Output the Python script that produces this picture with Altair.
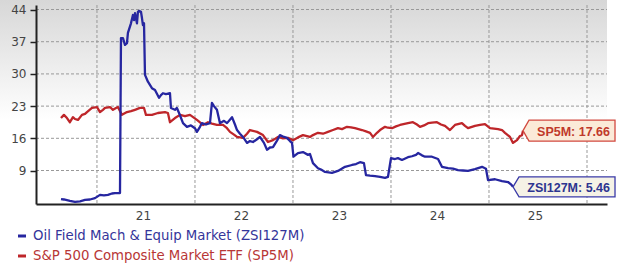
import altair as alt
import pandas as pd

# ---------------- data ----------------
series_names = ["Oil Field Mach & Equip Market (ZSI127M)",
                "S&P 500 Composite Market ETF (SP5M)"]
series_codes = ["ZSI127M", "SP5M"]

blue_t = [2020.633, 2020.663, 2020.724, 2020.776, 2020.827, 2020.878, 2020.929, 2020.980,
          2021.031, 2021.071, 2021.112, 2021.153, 2021.184, 2021.235, 2021.245, 2021.265,
          2021.286, 2021.306, 2021.316, 2021.347, 2021.367, 2021.378, 2021.388, 2021.408,
          2021.418, 2021.429, 2021.449, 2021.459, 2021.469, 2021.480, 2021.490, 2021.520,
          2021.561, 2021.592, 2021.633, 2021.653, 2021.673, 2021.704, 2021.745, 2021.755,
          2021.796, 2021.816, 2021.847, 2021.878, 2021.918, 2021.959, 2022.000, 2022.020,
          2022.051, 2022.071, 2022.112, 2022.153, 2022.173, 2022.194, 2022.224, 2022.255,
          2022.296, 2022.327, 2022.378, 2022.408, 2022.429, 2022.459, 2022.490, 2022.531,
          2022.561, 2022.592, 2022.633, 2022.663, 2022.704, 2022.735, 2022.765, 2022.796,
          2022.837, 2022.867, 2022.908, 2022.939, 2022.969, 2022.990, 2023.005, 2023.051,
          2023.102, 2023.153, 2023.173, 2023.204, 2023.255, 2023.286, 2023.327, 2023.398,
          2023.459, 2023.531, 2023.602, 2023.643, 2023.684, 2023.724, 2023.745, 2023.786,
          2023.837, 2023.888, 2023.939, 2023.969, 2024.000, 2024.041, 2024.071, 2024.112,
          2024.173, 2024.214, 2024.255, 2024.276, 2024.316, 2024.347, 2024.418, 2024.480,
          2024.520, 2024.582, 2024.633, 2024.684, 2024.735, 2024.786, 2024.857, 2024.929,
          2024.969, 2024.990, 2025.061, 2025.133, 2025.194, 2025.224, 2025.245]
blue_v = [2.8, 2.7, 2.4, 2.2, 2.3, 2.6, 2.7, 3.0,
          3.7, 3.6, 3.7, 4.0, 4.1, 4.1, 37.8, 37.8,
          36.3, 36.7, 38.9, 41.0, 42.8, 41.7, 43.2, 41.0,
          43.5, 43.7, 43.5, 42.2, 40.6, 41.0, 29.8, 28.3,
          26.9, 26.5, 24.8, 25.4, 25.8, 25.6, 25.8, 22.6,
          22.2, 22.6, 21.0, 19.3, 18.5, 18.8, 18.2, 17.4,
          18.5, 19.3, 19.0, 19.3, 23.7, 23.0, 22.2, 19.3,
          19.8, 19.3, 20.6, 19.0, 17.8, 17.0, 16.3, 15.0,
          15.4, 15.2, 15.8, 16.3, 15.0, 13.5, 14.0, 14.1,
          15.5, 16.7, 16.3, 16.1, 15.4, 15.0, 12.0, 12.8,
          13.0, 12.4, 12.6, 10.6, 9.5, 9.2, 8.7, 8.5,
          8.9, 9.8, 10.2, 10.4, 10.8, 10.6, 8.0, 7.9,
          7.8, 7.6, 7.4, 7.6, 11.7, 11.5, 11.7, 11.3,
          11.9, 12.1, 12.4, 12.8, 12.3, 12.0, 12.0, 11.5,
          9.8, 9.5, 9.4, 9.1, 9.0, 8.9, 9.3, 9.8,
          9.4, 6.9, 7.1, 6.7, 6.5, 6.0, 5.46]

red_t = [2020.633, 2020.663, 2020.694, 2020.724, 2020.755, 2020.776, 2020.806, 2020.847,
         2020.878, 2020.898, 2020.949, 2021.000, 2021.031, 2021.061, 2021.082, 2021.133,
         2021.163, 2021.194, 2021.214, 2021.255, 2021.306, 2021.347, 2021.388, 2021.439,
         2021.480, 2021.500, 2021.561, 2021.622, 2021.694, 2021.724, 2021.745, 2021.796,
         2021.847, 2021.898, 2021.949, 2022.020, 2022.082, 2022.133, 2022.173, 2022.224,
         2022.286, 2022.327, 2022.357, 2022.398, 2022.429, 2022.490, 2022.531, 2022.561,
         2022.633, 2022.694, 2022.745, 2022.796, 2022.847, 2022.898, 2022.949, 2023.000,
         2023.051, 2023.102, 2023.173, 2023.204, 2023.255, 2023.306, 2023.357, 2023.408,
         2023.459, 2023.500, 2023.551, 2023.592, 2023.633, 2023.704, 2023.745, 2023.786,
         2023.816, 2023.857, 2023.888, 2023.939, 2023.969, 2024.010, 2024.051, 2024.092,
         2024.173, 2024.224, 2024.265, 2024.296, 2024.337, 2024.378, 2024.418, 2024.469,
         2024.510, 2024.551, 2024.602, 2024.653, 2024.724, 2024.755, 2024.786, 2024.857,
         2024.908, 2024.959, 2025.010, 2025.051, 2025.092, 2025.133, 2025.163, 2025.214,
         2025.245, 2025.265, 2025.286, 2025.316, 2025.337, 2025.347]
red_v = [20.4, 21.1, 20.4, 19.5, 20.6, 20.2, 20.0, 21.1,
         21.3, 21.7, 22.6, 22.8, 21.7, 22.2, 22.6, 22.8,
         22.2, 22.6, 22.8, 21.1, 21.7, 21.9, 22.2, 22.6,
         22.6, 21.1, 21.1, 21.5, 21.7, 21.5, 19.5, 20.4,
         21.1, 20.8, 21.1, 20.0, 18.9, 19.5, 19.2, 18.9,
         18.9, 18.2, 17.4, 16.8, 16.3, 16.1, 17.0, 17.8,
         17.4, 16.7, 15.2, 15.6, 16.3, 16.0, 16.1, 15.6,
         16.2, 16.7, 16.3, 16.7, 17.2, 17.0, 17.4, 17.8,
         18.2, 18.0, 18.5, 18.4, 18.2, 17.8, 17.5, 17.2,
         16.3, 17.2, 17.8, 18.5, 18.3, 18.2, 18.6, 18.9,
         19.3, 19.5, 19.0, 18.5, 18.8, 19.3, 19.4, 19.5,
         19.0, 18.7, 17.8, 18.9, 19.3, 18.7, 18.2, 18.7,
         18.9, 19.1, 18.2, 18.1, 18.0, 17.8, 17.2, 16.3,
         15.0, 15.3, 15.6, 16.5, 16.7, 17.66]

y_ticks = [9, 16, 23, 30, 37, 44]
x_grid = [2021, 2022, 2023, 2024, 2025, 2026]

# ---------------- styling ----------------
BLUE = "#2626a0"
RED = "#be262a"
FONT = "DejaVu Sans"
GRID = "#999999"

blue_df = pd.DataFrame({"t": blue_t, "v": blue_v})
red_df = pd.DataFrame({"t": red_t, "v": red_v})
blue_last = pd.DataFrame({"t": [blue_t[-1]], "v": [blue_v[-1]]})
red_last = pd.DataFrame({"t": [red_t[-1]], "v": [red_v[-1]]})
ygrid_df = pd.DataFrame({"gv": y_ticks})
xgrid_df = pd.DataFrame({"gt": x_grid})

xscale = alt.Scale(domain=[2020.378, 2026.204], nice=False, zero=False)
yscale = alt.Scale(domain=[1.72, 44.98], nice=False, zero=False)

xaxis = alt.Axis(values=x_grid, grid=False, tickSize=0, domainColor="#222222", domainWidth=2,
                 labelExpr="datum.value < 2026 ? format(datum.value - 2000, 'd') : ''",
                 labelOffset=46, labelPadding=6, labelColor="#444444", labelFont=FONT,
                 labelFontSize=12, title=None, zindex=1)
yaxis = alt.Axis(values=y_ticks, grid=False, tickSize=6, tickColor="#222222", tickWidth=1.5,
                 domainColor="#222222", domainWidth=2, labelPadding=4, labelColor="#444444",
                 labelFont=FONT, labelFontSize=12, title=None, zindex=1)

X = alt.X("t:Q", scale=xscale, axis=xaxis)
Y = alt.Y("v:Q", scale=yscale, axis=yaxis)

# background gradient (decorative)
bg = alt.Chart(pd.DataFrame({"a": [0]})).mark_rect(
    fill=alt.Gradient(gradient="linear",
                      stops=[alt.GradientStop(color="#d7d7d7", offset=0),
                             alt.GradientStop(color="#ffffff", offset=1)],
                      x1=0, x2=0, y1=0, y2=1)
).encode(x=alt.value(-36), x2=alt.value(571), y=alt.value(-5), y2=alt.value(115))

hgrid = alt.Chart(ygrid_df).mark_rule(
    color=GRID, strokeWidth=1, strokeDash=[3, 2]
).encode(y=alt.Y("gv:Q", scale=yscale, axis=yaxis), x=alt.value(0), x2=alt.value(571))
vgrid = alt.Chart(xgrid_df).mark_rule(
    color=GRID, strokeWidth=1, strokeDash=[3, 2]
).encode(x=alt.X("gt:Q", scale=xscale, axis=xaxis), y=alt.value(0), y2=alt.value(199))

red_line = alt.Chart(red_df).mark_line(color=RED, strokeWidth=2.3, strokeJoin="round").encode(x=X, y=Y)
blue_line = alt.Chart(blue_df).mark_line(color=BLUE, strokeWidth=2.3, strokeJoin="round").encode(x=X, y=Y)

red_box = alt.Chart(red_last).mark_point(
    shape="M0,0 L0.6,-1.05 L9.2,-1.05 L9.2,1.05 L0.6,1.05 Z",
    size=400, filled=True, fill="#fbead8", stroke="#d24a40", strokeWidth=1.3,
    opacity=1, fillOpacity=1
).encode(x=X, y=Y)
blue_box = alt.Chart(blue_last).mark_point(
    shape="M0,0 L0.6,-1.0 L10.2,-1.0 L10.2,1.0 L0.6,1.0 Z",
    size=400, filled=True, fill="#f5f2e6", stroke="#3a3aa8", strokeWidth=1.3,
    opacity=1, fillOpacity=1
).encode(x=X, y=Y)

red_txt = alt.Chart(red_last).mark_text(
    align="right", baseline="middle", dx=87, dy=1, font="Liberation Sans",
    fontSize=12.5, fontWeight="bold", color="#c0392b"
).encode(x=X, y=Y, text=alt.value(f"{series_codes[1]}: {red_v[-1]:.2f}"))
blue_txt = alt.Chart(blue_last).mark_text(
    align="right", baseline="middle", dx=97, dy=1, font="Liberation Sans",
    fontSize=12.5, fontWeight="bold", color="#2d3590"
).encode(x=X, y=Y, text=alt.value(f"{series_codes[0]}: {blue_v[-1]:.2f}"))

# manual legend (below plot)
leg_layers = []
for i, (name, col, tcol) in enumerate(zip(series_names, [BLUE, RED], ["#35359a", "#b83636"])):
    yy = 231 + 20 * i
    leg_layers.append(
        alt.Chart(pd.DataFrame({"a": [0]})).mark_rule(color=col, strokeWidth=3).encode(
            x=alt.value(-18), x2=alt.value(-10), y=alt.value(yy), y2=alt.value(yy))
    )
    leg_layers.append(
        alt.Chart(pd.DataFrame({"a": [0]})).mark_text(
            align="left", baseline="middle", font=FONT, fontSize=13.3, color=tcol
        ).encode(x=alt.value(-3), y=alt.value(yy), text=alt.value(name))
    )

chart = alt.layer(
    bg, hgrid, vgrid, red_line, blue_line, red_box, blue_box, red_txt, blue_txt, *leg_layers
).properties(
    width=571, height=199,
    autosize=alt.AutoSizeParams(type="none"),
    padding={"left": 36, "top": 5, "right": 13, "bottom": 62},
    background="white"
).configure_view(stroke=None)

chart.save("out.html", embed_options={"renderer": "svg", "actions": False})
